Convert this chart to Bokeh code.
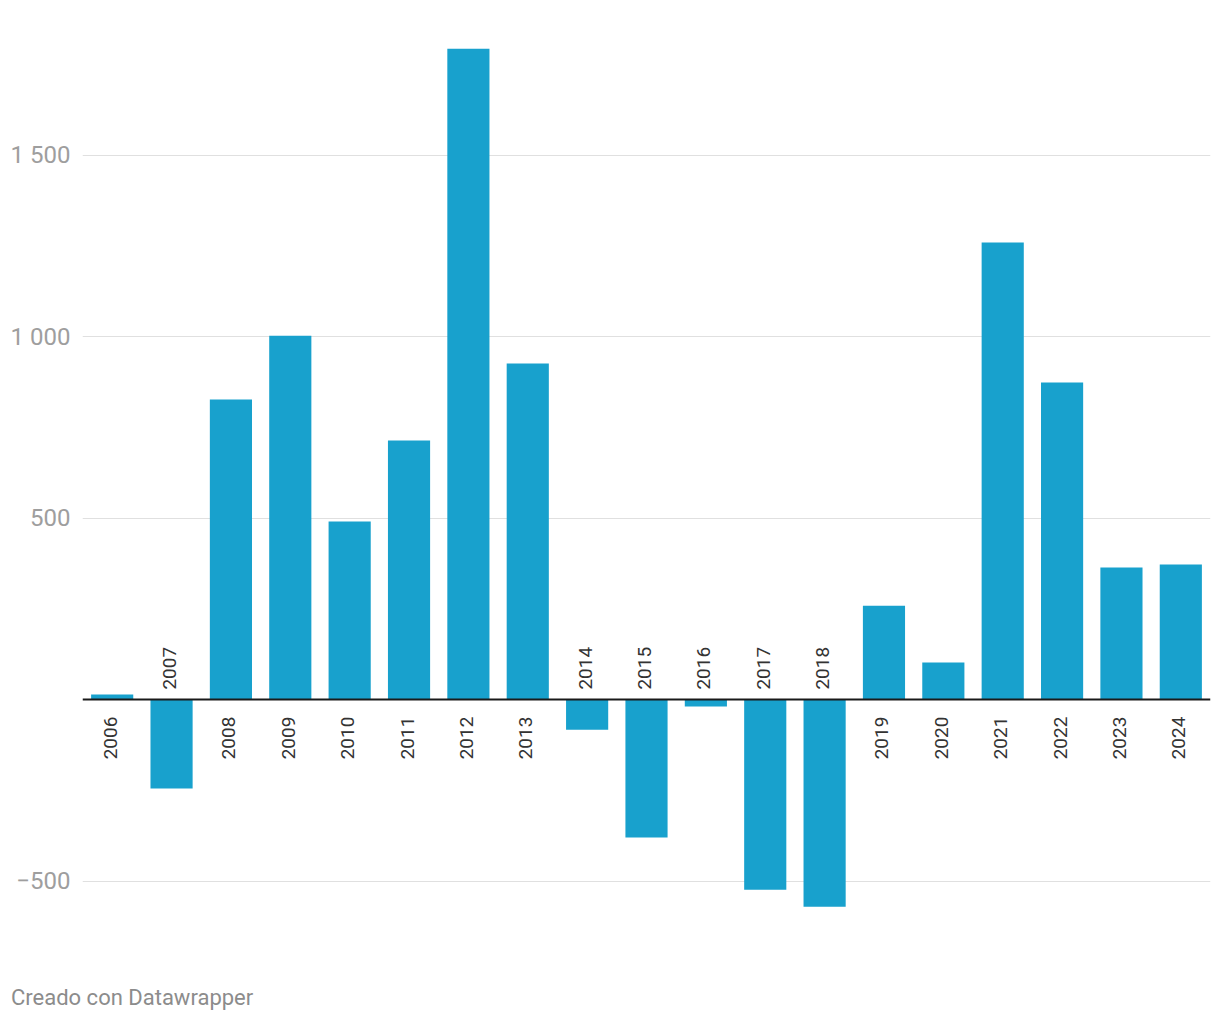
import math
from bokeh.plotting import figure
from bokeh.layouts import column
from bokeh.models import ColumnDataSource, FactorRange, Range1d, FixedTicker, Span, Div
from bokeh.core.properties import value
from bokeh.embed import file_html
from bokeh.resources import INLINE

years = [str(y) for y in range(2006, 2025)]
values = [14, -245, 827, 1003, 491, 714, 1794, 926, -83, -380, -19, -524, -571,
          259, 102, 1260, 874, 364, 372]
y_ticks = [-500, 500, 1000, 1500]
y_tick_labels = {-500: "\u2212500", 500: "500", 1000: "1\u00a0000", 1500: "1\u00a0500"}
footer_text = "Creado con Datawrapper"

BAR = "#18a1cd"

src = ColumnDataSource(dict(
    year=years,
    val=values,
    zero=[0] * len(values),
    align=["right" if v >= 0 else "left" for v in values],
    yoff=[17 if v >= 0 else -10 for v in values],
))

p = figure(width=1212, height=983, output_backend="svg", toolbar_location=None,
           x_range=FactorRange(factors=years, range_padding=0),
           y_range=Range1d(-719, 1844),
           x_axis_location=None,
           min_border_left=82, min_border_right=2, min_border_top=30, min_border_bottom=23)

p.outline_line_color = None
p.background_fill_color = "white"
p.border_fill_color = "white"
p.xgrid.grid_line_color = None

ax = p.yaxis[0]
ax.ticker = FixedTicker(ticks=y_ticks)
ax.major_label_overrides = y_tick_labels
ax.axis_line_color = None
ax.major_tick_line_color = None
ax.minor_tick_line_color = None
ax.major_tick_in = 0
ax.major_tick_out = 0
ax.major_label_standoff = 12
ax.major_label_text_font = "Roboto"
ax.major_label_text_font_size = "24px"
ax.major_label_text_color = "#9e9e9e"
p.ygrid.grid_line_color = "#e0e0e0"
p.ygrid.grid_line_width = 1

p.vbar(x="year", top="val", bottom="zero", width=0.71, source=src,
       fill_color=BAR, line_color=None)

p.add_layout(Span(location=0, dimension="width", line_color="#1a1a1a", line_width=2))

p.text(x="year", y="zero", text="year", source=src, angle=math.pi / 2,
       text_align="align", y_offset="yoff", x_offset=-2, text_baseline="middle",
       text_font=value("Roboto"), text_font_size="19px", text_color="#333333")

footer = Div(text=footer_text, width=400, height=29, margin=(2, 0, 0, 11),
             styles={"font-family": "Roboto", "font-size": "22px",
                     "line-height": "26px", "color": "#8c8c8c"})

layout = column(p, footer, spacing=0)

open("out.html", "w").write(file_html(layout, INLINE))
